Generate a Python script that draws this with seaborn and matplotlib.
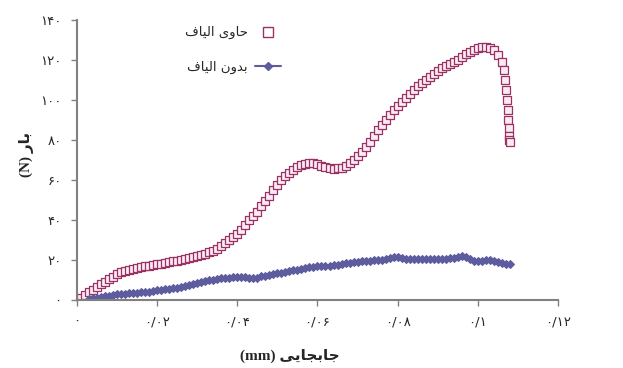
"""
Load vs displacement, with and without fibres
"""
import matplotlib
matplotlib.use('Agg')
import matplotlib.pyplot as plt
import seaborn as sns
from matplotlib.lines import Line2D

# Data
# with fibres (square markers)
fiber_x = [0.001, 0.002, 0.003, 0.004, 0.005, 0.006, 0.007, 0.008, 0.009, 0.010,
           0.011, 0.012, 0.013, 0.014, 0.015, 0.016, 0.017, 0.018, 0.019, 0.020,
           0.021, 0.022, 0.023, 0.024, 0.025, 0.026, 0.027, 0.028, 0.029, 0.030,
           0.031, 0.032, 0.033, 0.034, 0.035, 0.036, 0.037, 0.038, 0.039, 0.040,
           0.041, 0.042, 0.043, 0.044, 0.045, 0.046, 0.047, 0.048, 0.049, 0.050,
           0.051, 0.052, 0.053, 0.054, 0.055, 0.056, 0.057, 0.058, 0.059, 0.060,
           0.061, 0.062, 0.063, 0.064, 0.065, 0.066, 0.067, 0.068, 0.069, 0.070,
           0.071, 0.072, 0.073, 0.074, 0.075, 0.076, 0.077, 0.078, 0.079, 0.080,
           0.081, 0.082, 0.083, 0.084, 0.085, 0.086, 0.087, 0.088, 0.089, 0.090,
           0.091, 0.092, 0.093, 0.094, 0.095, 0.096, 0.097, 0.098, 0.099, 0.100,
           0.101, 0.102, 0.103, 0.104, 0.105, 0.106,
           0.1065, 0.1068, 0.1071, 0.1073, 0.1075, 0.1076, 0.1077, 0.1078, 0.1079, 0.1080]
fiber_y = [1.0, 2.5, 4.0, 5.0, 6.5, 8.0, 9.0, 10.5, 11.5, 13.0,
           14.0, 14.5, 15.0, 15.5, 16.0, 16.5, 17.0, 17.0, 17.5, 18.0,
           18.0, 18.5, 19.0, 19.5, 19.5, 20.0, 20.5, 21.0, 21.5, 22.0,
           22.5, 23.0, 24.0, 24.5, 25.5, 27.0, 28.5, 30.0, 31.5, 33.0,
           35.0, 37.5, 40.0, 42.0, 44.0, 47.0, 49.5, 52.0, 55.0, 57.5,
           60.0, 62.0, 63.5, 65.0, 66.5, 67.5, 68.0, 68.5, 68.5, 68.0,
           67.0, 66.5, 66.0, 65.5, 66.0, 66.0, 67.0, 68.5, 70.0, 72.0,
           74.0, 76.5, 79.0, 82.0, 85.0, 87.5, 90.0, 92.5, 95.0, 97.0,
           99.0, 101.0, 103.0, 105.0, 107.0, 108.5, 110.0, 111.5, 113.0, 114.5,
           116.0, 117.0, 118.0, 119.0, 120.0, 121.5, 123.0, 124.0, 125.0, 126.0,
           126.5, 126.5, 126.0, 125.0, 122.5, 119.0,
           115.0, 110.0, 105.0, 100.0, 95.0, 90.0, 86.0, 82.0, 80.0, 79.0]

# without fibres (diamond markers with line)
plain_x = [0.003, 0.004, 0.005, 0.006, 0.007, 0.008, 0.009, 0.010,
           0.011, 0.012, 0.013, 0.014, 0.015, 0.016, 0.017, 0.018, 0.019, 0.020,
           0.021, 0.022, 0.023, 0.024, 0.025, 0.026, 0.027, 0.028, 0.029, 0.030,
           0.031, 0.032, 0.033, 0.034, 0.035, 0.036, 0.037, 0.038, 0.039, 0.040,
           0.041, 0.042, 0.043, 0.044, 0.045, 0.046, 0.047, 0.048, 0.049, 0.050,
           0.051, 0.052, 0.053, 0.054, 0.055, 0.056, 0.057, 0.058, 0.059, 0.060,
           0.061, 0.062, 0.063, 0.064, 0.065, 0.066, 0.067, 0.068, 0.069, 0.070,
           0.071, 0.072, 0.073, 0.074, 0.075, 0.076, 0.077, 0.078, 0.079, 0.080,
           0.081, 0.082, 0.083, 0.084, 0.085, 0.086, 0.087, 0.088, 0.089, 0.090,
           0.091, 0.092, 0.093, 0.094, 0.095, 0.096, 0.097, 0.098, 0.099, 0.100,
           0.101, 0.102, 0.103, 0.104, 0.105, 0.106, 0.107, 0.108]
plain_y = [0.5, 1.0, 1.2, 1.5, 2.0, 2.2, 2.5, 2.8,
           3.0, 3.2, 3.3, 3.5, 3.6, 3.8, 4.0, 4.2, 4.5, 4.8,
           5.0, 5.3, 5.5, 5.8, 6.0, 6.5, 7.0, 7.5, 8.0, 8.5,
           9.0, 9.5, 10.0, 10.2, 10.5, 10.8, 11.0, 11.2, 11.3, 11.5,
           11.5, 11.6, 11.2, 10.8, 11.2, 11.8, 12.2, 12.6, 13.0, 13.3,
           13.6, 14.0, 14.4, 14.8, 15.2, 15.6, 16.0, 16.3, 16.6, 16.8,
           17.0, 17.0, 17.2, 17.4, 17.6, 18.0, 18.3, 18.6, 18.8, 19.0,
           19.3, 19.5, 19.6, 19.8, 20.0, 20.2, 20.5, 21.0, 21.5, 21.5,
           21.0, 20.5, 20.5, 20.3, 20.3, 20.3, 20.3, 20.3, 20.3, 20.4,
           20.5, 20.7, 20.8, 21.0, 21.5, 21.8, 21.5, 20.5, 19.5, 19.3,
           19.5, 20.0, 20.0, 19.5, 19.0, 18.5, 18.2, 17.8]

x_ticks = [0, 0.02, 0.04, 0.06, 0.08, 0.1, 0.12]
x_tick_labels = ['0', '0.02', '0.04', '0.06', '0.08', '0.1', '0.12']
y_ticks = [0, 20, 40, 60, 80, 100, 120, 140]

label_fiber = 'حاوی الیاف'
label_plain = 'بدون الیاف'
x_title = 'جابجایی'
y_title = 'بار'

# matplotlib has no Arabic shaping, so map letters to presentation forms
# (isolated, final, initial, medial) and reverse into visual order
FORMS = {
    'ا': ('\uFE8D', '\uFE8E', None, None),
    'ب': ('\uFE8F', '\uFE90', '\uFE91', '\uFE92'),
    'ج': ('\uFE9D', '\uFE9E', '\uFE9F', '\uFEA0'),
    'ح': ('\uFEA1', '\uFEA2', '\uFEA3', '\uFEA4'),
    'د': ('\uFEA9', '\uFEAA', None, None),
    'ر': ('\uFEAD', '\uFEAE', None, None),
    'ف': ('\uFED1', '\uFED2', '\uFED3', '\uFED4'),
    'ل': ('\uFEDD', '\uFEDE', '\uFEDF', '\uFEE0'),
    'ن': ('\uFEE5', '\uFEE6', '\uFEE7', '\uFEE8'),
    'و': ('\uFEED', '\uFEEE', None, None),
    'ی': ('\uFBFC', '\uFBFD', '\uFBFE', '\uFBFF'),
}


def fa(text):
    out = []
    for i, ch in enumerate(text):
        if ch not in FORMS:
            out.append(ch)
            continue
        prev = text[i - 1] if i > 0 else ''
        nxt = text[i + 1] if i + 1 < len(text) else ''
        iso, fin, ini, med = FORMS[ch]
        joins_prev = prev in FORMS and FORMS[prev][2] is not None
        joins_next = nxt in FORMS and ini is not None
        if joins_prev and joins_next:
            out.append(med)
        elif joins_prev:
            out.append(fin)
        elif joins_next:
            out.append(ini)
        else:
            out.append(iso)
    return ''.join(reversed(out))


PERSIAN_DIGITS = str.maketrans('0123456789.', '۰۱۲۳۴۵۶۷۸۹/')

sns.set_style('white')
plt.rcParams['font.family'] = ['Liberation Serif', 'DejaVu Sans']

fiber_color = '#993366'
plain_color = '#5c5c9e'
axis_color = '#808080'

fig = plt.figure(figsize=(6.23, 3.68), dpi=100)
ax = fig.add_axes([0.1236, 0.1848, 0.772, 0.761])

sns.lineplot(x=plain_x, y=plain_y, ax=ax, sort=False, estimator=None,
             color=plain_color, linewidth=1.5, marker='D', markersize=4.5,
             markeredgecolor=plain_color, markerfacecolor=plain_color)
sns.scatterplot(x=fiber_x, y=fiber_y, ax=ax, marker='s', s=30,
                facecolor='#fbeaf2', edgecolor=fiber_color, linewidth=0.9)

ax.set_xlim(0, 0.12)
ax.set_ylim(0, 140)
ax.set_xticks(x_ticks)
ax.set_xticklabels([t.translate(PERSIAN_DIGITS) for t in x_tick_labels],
                   family=['DejaVu Sans'], fontsize=9.5)
ax.set_yticks(y_ticks)
ax.set_yticklabels([str(t).translate(PERSIAN_DIGITS) for t in y_ticks],
                   family=['DejaVu Sans'], fontsize=9.5)
ax.tick_params(axis='both', direction='out', length=4, width=1,
               color=axis_color, pad=7, bottom=True, left=True)

for side in ['top', 'right']:
    ax.spines[side].set_visible(False)
for side in ['left', 'bottom']:
    ax.spines[side].set_color(axis_color)
    ax.spines[side].set_linewidth(1.5)

ax.set_xlabel('(mm) ' + fa(x_title), fontsize=11, fontweight='bold')
ax.set_ylabel('(N) ' + fa(y_title), fontsize=11, fontweight='bold')
ax.xaxis.set_label_coords(0.443, -0.175)
ax.yaxis.set_label_coords(-0.09, 0.52)

handles = [
    Line2D([], [], linestyle='none', marker='s', markersize=6.5,
           markerfacecolor='white', markeredgecolor=fiber_color),
    Line2D([], [], color=plain_color, linewidth=1.5, marker='D', markersize=4.5),
]
ax.legend(handles, [fa(label_fiber), fa(label_plain)], loc='upper left',
          bbox_to_anchor=(0.2, 1.02), frameon=False, markerfirst=False,
          labelspacing=1.6, handlelength=2.0, handletextpad=0.5,
          prop={'family': ['DejaVu Sans'], 'size': 9.5})

plt.savefig('out.png', dpi=100)
plt.close()
